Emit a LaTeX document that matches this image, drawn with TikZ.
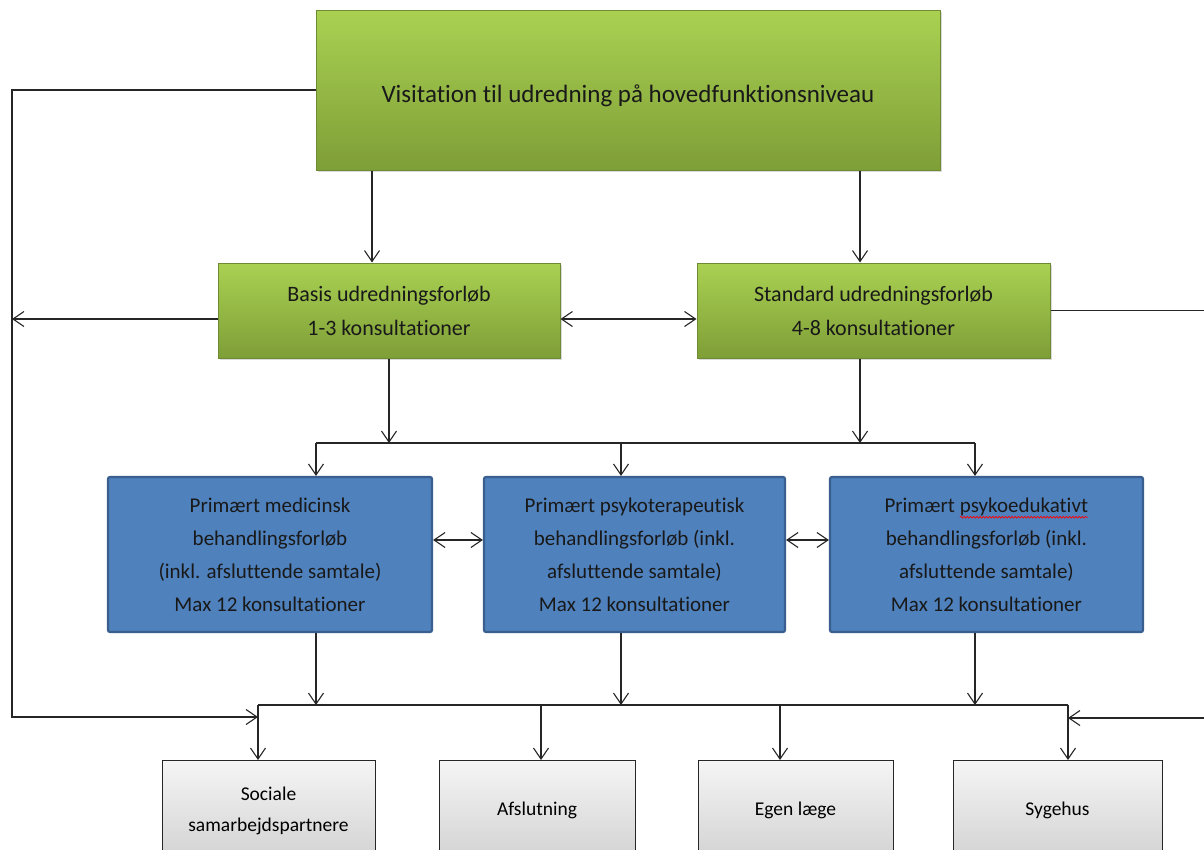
\documentclass[tikz,border=0pt]{standalone}
\usepackage{fontspec}
\setmainfont{Carlito}[Ligatures=NoCommon]
\usetikzlibrary{arrows.meta,shadows,decorations.pathmorphing}
\definecolor{greenTop}{HTML}{AAD152}
\definecolor{greenBot}{HTML}{7E9E37}
\definecolor{greenLine}{HTML}{6E8A33}
\definecolor{blueFill}{HTML}{4F81BD}
\definecolor{blueLine}{HTML}{3A5F8E}
\definecolor{grayTop}{HTML}{F5F5F5}
\definecolor{grayBot}{HTML}{D2D2D2}
\newcommand\spellwave[1]{\tikz[baseline=(w.base)]{%
  \node[inner sep=0pt, outer sep=0pt, minimum width=0pt, minimum height=0pt,
        draw=none, fill=none, sharp corners, anchor=base] (w) {#1};
  \draw[red, line width=0.7pt, sharp corners, decorate,
        decoration={snake, amplitude=0.9pt, segment length=3.2pt}]
    ([yshift=-5pt]w.base west) -- ([yshift=-5pt]w.base east);}}

\begin{document}
\begin{tikzpicture}[
  x=1pt, y=-1pt,
  greenbox/.style={draw=greenLine, line width=1pt, top color=greenTop, bottom color=greenBot,
                   drop shadow={opacity=0.3, shadow xshift=2pt, shadow yshift=-2pt},
                   inner sep=0pt, align=center, text=black!90},
  bluebox/.style={draw=blueLine, line width=2.2pt, fill=blueFill, rounded corners=2pt,
                  inner sep=0pt, align=center, text=black!90,
                  font=\fontsize{21}{33}\selectfont},
  graybox/.style={draw=black!85, line width=1pt, top color=grayTop, bottom color=grayBot,
                  anchor=north, minimum height=100pt, inner sep=0pt, align=center,
                  font=\fontsize{19.5}{31}\selectfont},
  line/.style={line width=1.1pt, black!85},
  arr/.style={line, -{Straight Barb[length=11pt, width=15pt, line width=1.1pt]}},
  darr/.style={line, {Straight Barb[length=11pt, width=15pt, line width=1.1pt]}-{Straight Barb[length=11pt, width=15pt, line width=1.1pt]}},
]
\path[use as bounding box, clip] (0,0) rectangle (1204,849);

% boxes
\node[greenbox, minimum width=624pt, minimum height=160pt, font=\fontsize{25}{29}\selectfont]
  (visit) at (628,90) {\raisebox{-6pt}[\height][\depth]{Visitation til udredning på hovedfunktionsniveau}};
\node[greenbox, minimum width=342pt, minimum height=95pt, font=\fontsize{22}{34}\selectfont]
  (basis) at (389,310.5) {Basis udredningsforløb\\1-3 konsultationer};
\node[greenbox, minimum width=353pt, minimum height=95pt, font=\fontsize{22}{34}\selectfont]
  (standard) at (873.5,310.5) {Standard udredningsforløb\\4-8 konsultationer};

\node[bluebox, minimum width=324pt, minimum height=155pt] (med) at (270,554.5)
  {Primært medicinsk\\behandlingsforløb\\(inkl. afsluttende samtale)\\Max 12 konsultationer};
\node[bluebox, minimum width=301pt, minimum height=155pt] (psy) at (634.5,554.5)
  {Primært psykoterapeutisk\\behandlingsforløb (inkl.\\afsluttende samtale)\\Max 12 konsultationer};
\node[bluebox, minimum width=313pt, minimum height=155pt] (edu) at (986.5,554.5)
  {Primært \spellwave{psykoedukativt}\\behandlingsforløb (inkl.\\afsluttende samtale)\\Max 12 konsultationer};

\node[graybox, minimum width=213pt] (soc) at (268.5,760) {Sociale\\samarbejdspartnere};
\node[graybox, minimum width=196pt] (afs) at (537,760) {Afslutning};
\node[graybox, minimum width=195pt] (egen) at (795.5,760) {Egen læge};
\node[graybox, minimum width=209pt] (syg) at (1057.5,760) {Sygehus};

% bus points
\coordinate (upL) at (316,443);
\coordinate (upR) at (975,443);
\coordinate (lo1) at (258,705);
\coordinate (lo2) at (541,705);
\coordinate (lo3) at (780,705);
\coordinate (lo4) at (1068,705);
\coordinate (leftX) at (12,717);
\coordinate (rightX) at (1215,718);

% visitation down
\draw[arr] ([xshift=-256pt]visit.south) -- ([xshift=-256pt]visit.south |- basis.north);
\draw[arr] ([xshift=232pt]visit.south) -- ([xshift=232pt]visit.south |- standard.north);
\draw[darr] ([yshift=-8.5pt]basis.east) -- ([yshift=-8.5pt]basis.east -| standard.west);

% upper bus
\draw[line] (upL) -- (upR);
\draw[arr] (basis.south) -- (basis.south |- upL);
\draw[arr] ([xshift=-13.5pt]standard.south) -- ([xshift=-13.5pt]standard.south |- upL);
\draw[arr] (upL) -- (upL |- med.north);
\draw[arr] ([xshift=-13.5pt]psy.north |- upL) -- ([xshift=-13.5pt]psy.north);
\draw[arr] (upR) -- (upR |- edu.north);
\draw[darr] ([yshift=14.5pt]med.east) -- ([yshift=14.5pt]med.east -| psy.west);
\draw[darr] ([yshift=14.5pt]psy.east) -- ([yshift=14.5pt]psy.east -| edu.west);

% lower bus
\draw[line] (lo1) -- (lo4);
\draw[arr] ([xshift=46pt]med.south) -- ([xshift=46pt]med.south |- lo1);
\draw[arr] ([xshift=-13.5pt]psy.south) -- ([xshift=-13.5pt]psy.south |- lo1);
\draw[arr] ([xshift=-11.5pt]edu.south) -- ([xshift=-11.5pt]edu.south |- lo1);
\draw[arr] (lo1) -- (lo1 |- soc.north);
\draw[arr] (lo2) -- (lo2 |- afs.north);
\draw[arr] (lo3) -- (lo3 |- egen.north);
\draw[arr] (lo4) -- (lo4 |- syg.north);

% feedback lines
\draw[arr] (visit.west) -| (leftX) -- (leftX -| lo1);
\draw[arr] ([yshift=-8.5pt]basis.west) -- ([yshift=-8.5pt]basis.west -| leftX);
\draw[arr] (standard.east) -| (rightX) -- (rightX -| lo4);
\end{tikzpicture}
\end{document}
